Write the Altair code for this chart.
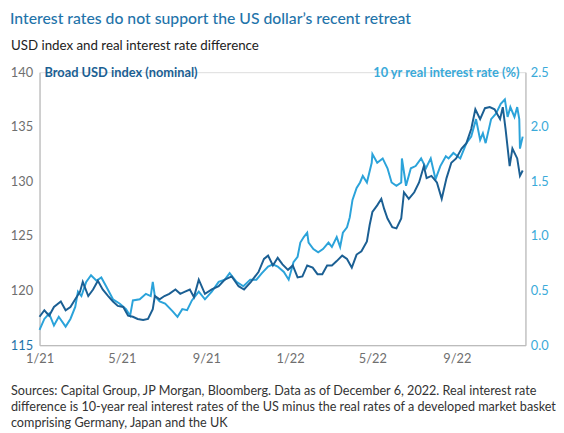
import altair as alt
import pandas as pd

# ---------------- data ----------------
usd_dates = [
    "2021-01-01", "2021-01-08", "2021-01-15", "2021-01-22", "2021-02-01", "2021-02-08",
    "2021-02-15", "2021-02-22", "2021-03-01", "2021-03-05", "2021-03-13", "2021-03-20",
    "2021-03-27", "2021-04-03", "2021-04-11", "2021-04-18", "2021-04-25", "2021-05-03",
    "2021-05-10", "2021-05-17", "2021-05-24", "2021-06-01", "2021-06-08", "2021-06-15",
    "2021-06-18", "2021-06-25", "2021-07-02", "2021-07-09", "2021-07-18", "2021-07-25",
    "2021-08-01", "2021-08-08", "2021-08-14", "2021-08-21", "2021-08-30", "2021-09-09",
    "2021-09-19", "2021-09-28", "2021-10-08", "2021-10-18", "2021-10-26", "2021-11-05",
    "2021-11-16", "2021-11-24", "2021-11-30", "2021-12-07", "2021-12-14", "2021-12-21",
    "2021-12-29", "2022-01-05", "2022-01-12", "2022-01-19", "2022-01-26", "2022-02-03",
    "2022-02-10", "2022-02-17", "2022-02-24", "2022-03-03", "2022-03-10", "2022-03-18",
    "2022-03-25", "2022-04-01", "2022-04-08", "2022-04-15", "2022-04-23", "2022-04-27",
    "2022-05-01", "2022-05-08", "2022-05-14", "2022-05-18", "2022-05-23", "2022-05-30",
    "2022-06-05", "2022-06-12", "2022-06-16", "2022-06-23", "2022-07-01", "2022-07-08",
    "2022-07-15", "2022-07-19", "2022-07-26", "2022-08-03", "2022-08-10", "2022-08-17",
    "2022-08-24", "2022-08-31", "2022-09-08", "2022-09-15", "2022-09-22", "2022-09-28",
    "2022-10-05", "2022-10-12", "2022-10-19", "2022-10-26", "2022-11-03", "2022-11-07",
    "2022-11-11", "2022-11-17", "2022-11-21", "2022-11-28", "2022-12-02", "2022-12-06",
]
usd_values = [
    117.6, 118.2, 117.7, 118.5, 119.0, 118.2,
    118.5, 119.2, 119.9, 120.8, 119.5, 120.1,
    120.9, 120.1, 119.5, 119.0, 118.6, 118.5,
    117.7, 117.6, 117.4, 117.3, 117.4, 118.3,
    119.5, 119.2, 119.5, 119.7, 120.1, 119.7,
    119.9, 120.1, 119.4, 121.0, 119.7, 120.1,
    120.4, 121.0, 121.3, 120.4, 120.1, 120.8,
    121.7, 122.9, 123.2, 122.3, 123.0, 122.4,
    121.9, 122.3, 121.2, 121.3, 122.3, 122.1,
    121.5, 121.5, 122.3, 122.3, 122.7, 123.2,
    122.9, 122.1, 123.3, 123.6, 124.5, 126.0,
    127.2, 127.8, 128.4, 127.5, 126.6, 125.8,
    125.7, 126.6, 129.0, 128.4, 129.0, 129.9,
    131.4, 130.3, 130.5, 129.9, 128.4, 130.3,
    131.7, 132.1, 133.0, 133.5, 134.8, 136.6,
    135.7, 136.7, 136.8, 136.6, 135.7, 136.8,
    134.8, 131.4, 133.0, 132.1, 130.5, 131.0,
]

rate_dates = [
    "2021-01-01", "2021-01-08", "2021-01-15", "2021-01-22", "2021-01-29", "2021-02-08",
    "2021-02-15", "2021-02-22", "2021-02-26", "2021-03-03", "2021-03-10", "2021-03-17",
    "2021-03-25", "2021-04-01", "2021-04-08", "2021-04-18", "2021-04-28", "2021-05-07",
    "2021-05-13", "2021-05-17", "2021-05-27", "2021-06-05", "2021-06-12", "2021-06-15",
    "2021-06-18", "2021-06-25", "2021-07-03", "2021-07-14", "2021-07-21", "2021-07-28",
    "2021-08-04", "2021-08-11", "2021-08-21", "2021-08-30", "2021-09-09", "2021-09-19",
    "2021-09-28", "2021-10-05", "2021-10-15", "2021-10-25", "2021-11-04", "2021-11-13",
    "2021-11-21", "2021-11-30", "2021-12-07", "2021-12-14", "2021-12-23", "2021-12-30",
    "2022-01-06", "2022-01-12", "2022-01-16", "2022-01-21", "2022-01-26", "2022-01-28",
    "2022-02-04", "2022-02-11", "2022-02-18", "2022-02-26", "2022-03-03", "2022-03-10",
    "2022-03-15", "2022-03-19", "2022-03-25", "2022-03-29", "2022-04-02", "2022-04-08",
    "2022-04-13", "2022-04-17", "2022-04-23", "2022-04-30", "2022-05-01", "2022-05-08",
    "2022-05-16", "2022-05-23", "2022-05-29", "2022-06-05", "2022-06-12", "2022-06-13",
    "2022-06-19", "2022-06-26", "2022-07-03", "2022-07-11", "2022-07-18", "2022-07-25",
    "2022-08-01", "2022-08-08", "2022-08-16", "2022-08-20", "2022-08-27", "2022-09-06",
    "2022-09-15", "2022-09-22", "2022-09-29", "2022-10-05", "2022-10-09", "2022-10-13",
    "2022-10-21", "2022-10-28", "2022-11-04", "2022-11-10", "2022-11-14", "2022-11-18",
    "2022-11-24", "2022-11-28", "2022-12-01", "2022-12-02", "2022-12-06",
]
rate_values = [
    0.14, 0.24, 0.29, 0.18, 0.26, 0.17,
    0.24, 0.35, 0.49, 0.45, 0.58, 0.64,
    0.59, 0.62, 0.54, 0.42, 0.38, 0.33,
    0.27, 0.41, 0.42, 0.47, 0.45, 0.58,
    0.45, 0.40, 0.38, 0.31, 0.26, 0.33,
    0.32, 0.41, 0.49, 0.42, 0.49, 0.58,
    0.60, 0.66, 0.58, 0.54, 0.60, 0.60,
    0.66, 0.72, 0.74, 0.72, 0.67, 0.60,
    0.76, 0.81, 0.94, 0.99, 1.03, 0.94,
    0.88, 0.85, 0.88, 0.94, 0.90, 0.99,
    0.90, 1.03, 1.08, 1.17, 1.33, 1.44,
    1.49, 1.55, 1.49, 1.67, 1.75, 1.67,
    1.71, 1.62, 1.49, 1.46, 1.49, 1.71,
    1.46, 1.62, 1.64, 1.71, 1.62, 1.71,
    1.52, 1.64, 1.73, 1.71, 1.76, 1.71,
    1.85, 1.91, 2.07, 1.88, 1.94, 1.85,
    2.07, 2.12, 2.21, 2.25, 2.09, 2.18,
    2.09, 2.18, 2.07, 1.80, 1.91,
]

x_tick_dates = [(2021, 1), (2021, 5), (2021, 9), (2022, 1), (2022, 5), (2022, 9)]
left_ticks = [115, 120, 125, 130, 135, 140]
right_ticks = [0.0, 0.5, 1.0, 1.5, 2.0, 2.5]

title_text = "Interest rates do not support the US dollar\u2019s recent retreat"
subtitle_text = "USD index and real interest rate difference"
left_title = "Broad USD index (nominal)"
right_title = "10 yr real interest rate (%)"
footer_lines = [
    "Sources: Capital Group, JP Morgan, Bloomberg. Data as of December 6, 2022. Real interest rate",
    "difference is 10-year real interest rates of the US minus the real rates of a developed market basket",
    "comprising Germany, Japan and the UK",
]

# ---------------- styling ----------------
DARK = "#1b5f93"
LIGHT = "#2ba3da"
TITLE_BLUE = "#1f74aa"
RIGHT_LABEL = "#3aaad9"
GRAY = "#6f6f6f"
AXIS_LINE = "#bcbcbc"
FONT = "Lato"

usd_df = pd.DataFrame({"date": usd_dates, "value": usd_values})
rate_df = pd.DataFrame({"date": rate_dates, "value": rate_values})

x_domain = [alt.DateTime(year=2021, month=1, date=1, utc=True),
            alt.DateTime(year=2022, month=12, date=10, utc=True)]
x_values = [alt.DateTime(year=y, month=m, date=1, utc=True) for y, m in x_tick_dates]


def x_enc():
    return alt.X(
        "date:T",
        scale=alt.Scale(type="utc", domain=x_domain, nice=False),
        axis=alt.Axis(
            values=x_values,
            labelExpr="utcFormat(datum.value, '%-m/%y')",
            title=None, grid=False, ticks=False,
            domainColor=AXIS_LINE, domainWidth=1.2,
            labelColor=GRAY, labelFontSize=13, labelFont=FONT,
            labelPadding=8, labelFlush=False, labelOverlap=False,
        ),
    )


rate_line = alt.Chart(rate_df).mark_line(color=LIGHT, strokeWidth=2).encode(
    x=x_enc(),
    y=alt.Y(
        "value:Q",
        scale=alt.Scale(domain=[0, 2.5], nice=False, zero=False),
        axis=alt.Axis(
            orient="right", values=right_ticks, format=".1f", title=None,
            grid=False, ticks=False, domainColor=AXIS_LINE, domainWidth=1.2,
            labelColor=RIGHT_LABEL, labelFontSize=13, labelFont=FONT, labelPadding=5,
        ),
    ),
)

usd_line = alt.Chart(usd_df).mark_line(color=DARK, strokeWidth=2).encode(
    x=x_enc(),
    y=alt.Y(
        "value:Q",
        scale=alt.Scale(domain=[115, 140], nice=False, zero=False),
        axis=alt.Axis(
            orient="left", values=left_ticks, format="d", title=None,
            grid=False, ticks=False, domainColor=AXIS_LINE, domainWidth=1.2,
            labelColor=alt.expr(f"datum.value == 115 ? '{TITLE_BLUE}' : '{GRAY}'"),
            labelFontSize=13, labelFont=FONT, labelPadding=7,
        ),
    ),
)

blank = alt.Data(values=[{}])

title_mark = alt.Chart(blank).mark_text(
    text=title_text, align="left", baseline="middle", font=FONT,
    fontSize=16, color=TITLE_BLUE, fontWeight=500,
).encode(x=alt.value(-30), y=alt.value(-54))

subtitle_mark = alt.Chart(blank).mark_text(
    text=subtitle_text, align="left", baseline="middle", font=FONT,
    fontSize=13.5, color="#222222",
).encode(x=alt.value(-29), y=alt.value(-26))

left_title_mark = alt.Chart(blank).mark_text(
    text=left_title, align="left", baseline="middle", font=FONT,
    fontSize=13, fontWeight="bold", color=DARK,
).encode(x=alt.value(5), y=alt.value(1))

right_title_mark = alt.Chart(blank).mark_text(
    text=right_title, align="right", baseline="middle", font=FONT,
    fontSize=13, fontWeight="bold", color=RIGHT_LABEL,
).encode(x=alt.value(487), y=alt.value(1))

footer_mark = alt.Chart(blank).mark_text(
    text=footer_lines, align="left", baseline="middle", font=FONT,
    fontSize=12.8, color="#333333", lineHeight=16,
).encode(x=alt.value(-29), y=alt.value(324))

lines = alt.layer(rate_line, usd_line).resolve_scale(y="independent")

chart = alt.layer(
    lines, title_mark, subtitle_mark, left_title_mark, right_title_mark, footer_mark
).properties(
    width=493, height=277,
    autosize=alt.AutoSizeParams(type="none"),
    padding={"left": 32, "top": 62, "right": 31, "bottom": 86},
).configure_view(stroke=None).configure(background="white")

chart.save("out.html", embed_options={"renderer": "svg", "actions": False})
